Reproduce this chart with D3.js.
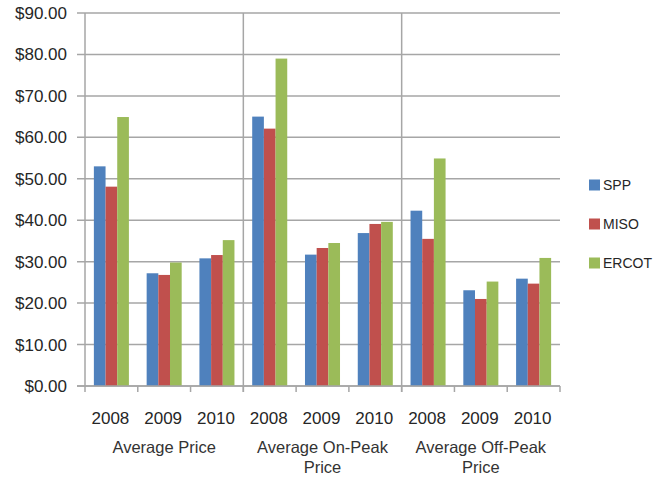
<!doctype html>
<html>

<head>
    <meta charset="utf-8">
    <title>SPP / MISO / ERCOT Prices</title>
    <script type="text/javascript" src="https://cdn.jsdelivr.net/npm/d3@7"></script>
    <style type="text/css">
        html,
        body {
            margin: 0;
            padding: 0;
            background: #fff;
        }

        #chart svg {
            display: block;
        }
    </style>
</head>

<body>
    <div id="chart"></div>

    <script type="text/javascript">
        // data
        var groups = [["Average Price"], ["Average On-Peak", "Price"], ["Average Off-Peak", "Price"]]
        var years = ["2008", "2009", "2010"]
        var series = ["SPP", "MISO", "ERCOT"]
        var colors = ["#4F81BD", "#C0504D", "#9BBB59"]
        var yTicks = [0, 10, 20, 30, 40, 50, 60, 70, 80, 90]

        // one row per group, one entry per year: [SPP, MISO, ERCOT]
        var avgPrice = [[53.0, 48.1, 64.9], [27.2, 26.8, 29.8], [30.8, 31.6, 35.2]]
        var onPeak = [[65.0, 62.1, 79.0], [31.7, 33.3, 34.5], [36.9, 39.1, 39.6]]
        var offPeak = [[42.3, 35.5, 54.9], [23.1, 21.0, 25.2], [25.9, 24.7, 30.9]]
        var values = [avgPrice, onPeak, offPeak]

        var width = 656,
            height = 478
        var margin = { left: 85, right: 96, top: 13, bottom: 92 }
        var plotW = width - margin.left - margin.right
        var plotH = height - margin.top - margin.bottom

        var svg = d3.select("#chart")
            .append("svg")
            .attr("width", width)
            .attr("height", height)
            .style("font-family", "'Liberation Sans', Arial, sans-serif")

        var g = svg.append("g")
            .attr("transform", "translate(" + margin.left + "," + margin.top + ")")

        // scales
        var x0 = d3.scaleBand()
            .domain(d3.range(groups.length))
            .range([0, plotW])

        var x1 = d3.scaleBand()
            .domain(years)
            .range([0, x0.bandwidth()])

        var x2 = d3.scaleBand()
            .domain(series)
            .range([0, x1.bandwidth()])
            .paddingOuter(0.76)

        var y = d3.scaleLinear()
            .domain([0, 90])
            .range([plotH, 0])

        // horizontal gridlines + y tick marks
        g.selectAll(".grid")
            .data(yTicks)
            .enter()
            .append("line")
            .attr("x1", -8)
            .attr("x2", plotW)
            .attr("y1", function (d) { return y(d) })
            .attr("y2", function (d) { return y(d) })
            .style("stroke", "#a6a6a6")
            .style("stroke-width", 1.5)

        g.selectAll(".ylab")
            .data(yTicks)
            .enter()
            .append("text")
            .attr("x", -18)
            .attr("y", function (d) { return y(d) + 6 })
            .attr("text-anchor", "end")
            .style("font-size", "17px")
            .style("fill", "#262626")
            .text(function (d) { return "$" + d.toFixed(2) })

        // group separators (full height) and the left axis
        g.selectAll(".sep")
            .data(d3.range(groups.length))
            .enter()
            .append("line")
            .attr("x1", function (d) { return x0(d) })
            .attr("x2", function (d) { return x0(d) })
            .attr("y1", 0)
            .attr("y2", plotH + 6)
            .style("stroke", "#a6a6a6")
            .style("stroke-width", 1.5)

        // small ticks between categories
        var catEdges = []
        groups.forEach(function (grp, gi) {
            years.forEach(function (yr) {
                catEdges.push(x0(gi) + x1(yr) + x1.bandwidth())
            })
        })
        g.selectAll(".ctick")
            .data(catEdges)
            .enter()
            .append("line")
            .attr("x1", function (d) { return d })
            .attr("x2", function (d) { return d })
            .attr("y1", plotH)
            .attr("y2", plotH + 6)
            .style("stroke", "#a6a6a6")
            .style("stroke-width", 1.5)

        // bars
        groups.forEach(function (grp, gi) {
            var gg = g.append("g")
                .attr("transform", "translate(" + x0(gi) + ",0)")
            years.forEach(function (yr, yi) {
                var cg = gg.append("g")
                    .attr("transform", "translate(" + x1(yr) + ",0)")
                cg.selectAll("rect")
                    .data(values[gi][yi])
                    .enter()
                    .append("rect")
                    .attr("x", function (d, i) { return x2(series[i]) })
                    .attr("y", function (d) { return y(d) })
                    .attr("width", x2.bandwidth())
                    .attr("height", function (d) { return plotH - y(d) })
                    .style("fill", function (d, i) { return colors[i] })

                gg.append("text")
                    .attr("x", x1(yr) + x1.bandwidth() / 2 - 1)
                    .attr("y", plotH + 38)
                    .attr("text-anchor", "middle")
                    .style("font-size", "17px")
                    .style("fill", "#262626")
                    .text(yr)
            })

            var lab = gg.append("text")
                .attr("text-anchor", "middle")
                .style("font-size", "16.5px")
                .style("fill", "#333")
            lab.selectAll("tspan")
                .data(grp)
                .enter()
                .append("tspan")
                .attr("x", x0.bandwidth() / 2)
                .attr("y", function (d, i) { return plotH + 67 + i * 20 })
                .text(function (d) { return d })
        })

        // x axis line
        g.append("line")
            .attr("x1", -8)
            .attr("x2", plotW)
            .attr("y1", plotH)
            .attr("y2", plotH)
            .style("stroke", "#a6a6a6")
            .style("stroke-width", 1.5)

        // legend
        var legend = svg.append("g")
            .attr("transform", "translate(589,185)")
        var item = legend.selectAll("g")
            .data(series)
            .enter()
            .append("g")
            .attr("transform", function (d, i) { return "translate(0," + (i * 39) + ")" })
        item.append("rect")
            .attr("x", 0)
            .attr("y", -5.5)
            .attr("width", 11)
            .attr("height", 11)
            .style("fill", function (d, i) { return colors[i] })
        item.append("text")
            .attr("x", 14)
            .attr("y", 5)
            .style("font-size", "14px")
            .style("fill", "#262626")
            .text(function (d) { return d })
    </script>
</body>

</html>
